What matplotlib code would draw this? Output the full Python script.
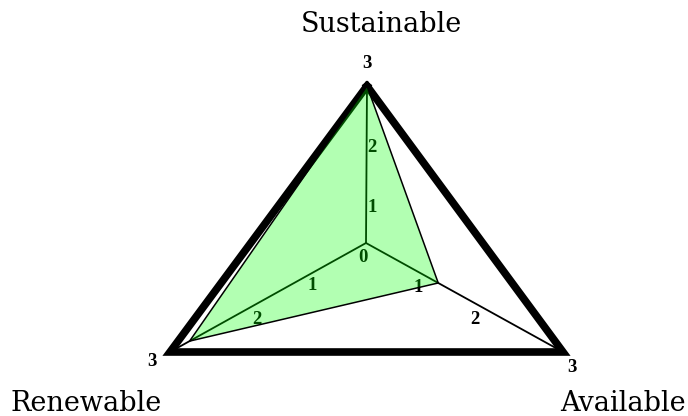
import numpy as np
import matplotlib
matplotlib.use("Agg")
import matplotlib.pyplot as plt

# data
categories = ["Sustainable", "Available", "Renewable"]
values = [3.0, 1.1, 2.7]
vmax = 3
tick_vals = [1, 2]

# layout (pixel space of a 688x416 canvas, y down)
W, H = 688, 416
center = np.array([366.0, 243.0])
tips = {"Sustainable": np.array([1.0, -157.0]),
        "Available": np.array([197.0, 109.0]),
        "Renewable": np.array([-196.0, 109.0])}

def pt(cat, v):
    return center + tips[cat] * v / vmax

fig = plt.figure(figsize=(W / 100, H / 100), dpi=100)
ax = fig.add_axes([0, 0, 1, 1])
ax.set_xlim(0, W); ax.set_ylim(H, 0); ax.axis("off")

# outer frame at max value
frame = np.array([pt(c, vmax) for c in categories + categories[:1]])
ax.plot(frame[:, 0], frame[:, 1], color="black", lw=5.5, solid_joinstyle="miter", zorder=2)

# spokes
for c in categories:
    p = pt(c, vmax)
    ax.plot([center[0], p[0]], [center[1], p[1]], color="black", lw=1.3, zorder=1)

# tick labels (drawn beneath the translucent fill)
tf = dict(family=["Liberation Serif", "DejaVu Serif"], fontweight="bold", fontsize=13.5,
          ha="center", va="center", zorder=3)
steps = {"Sustainable": (np.array([0.0, -60.0]), np.array([6.0, 24.0])),
         "Available": (np.array([57.0, 33.0]), np.array([-5.0, 11.0])),
         "Renewable": (np.array([-55.0, 33.0]), np.array([1.0, 10.0]))}
for c in categories:
    step, off = steps[c]
    for v in tick_vals:
        x, y = center + step * v + off
        ax.text(x, y, str(v), **tf)
ax.text(center[0] - 3, center[1] + 15, "0", **tf)
# max labels outside the corners
ax.annotate(str(vmax), pt("Sustainable", vmax), xytext=(0, 22), textcoords="offset pixels", **tf)
ax.annotate(str(vmax), pt("Renewable", vmax), xytext=(-18, -10), textcoords="offset pixels", **tf)
ax.annotate(str(vmax), pt("Available", vmax), xytext=(9, -15), textcoords="offset pixels", **tf)

# data polygon
poly = np.array([pt(c, v) for c, v in zip(categories, values)])
ax.fill(poly[:, 0], poly[:, 1], color="#00ff00", alpha=0.3, lw=0, zorder=4)
closed = np.vstack([poly, poly[:1]])
ax.plot(closed[:, 0], closed[:, 1], color="black", lw=1.1, zorder=5)

# category labels
cf = dict(family="DejaVu Serif", fontsize=19.5, ha="center", va="baseline")
ax.text(381, 32, categories[0], **cf)
ax.text(623, 411, categories[1], **cf)
ax.text(86, 411, categories[2], **cf)

fig.savefig("out.png", dpi=100)
